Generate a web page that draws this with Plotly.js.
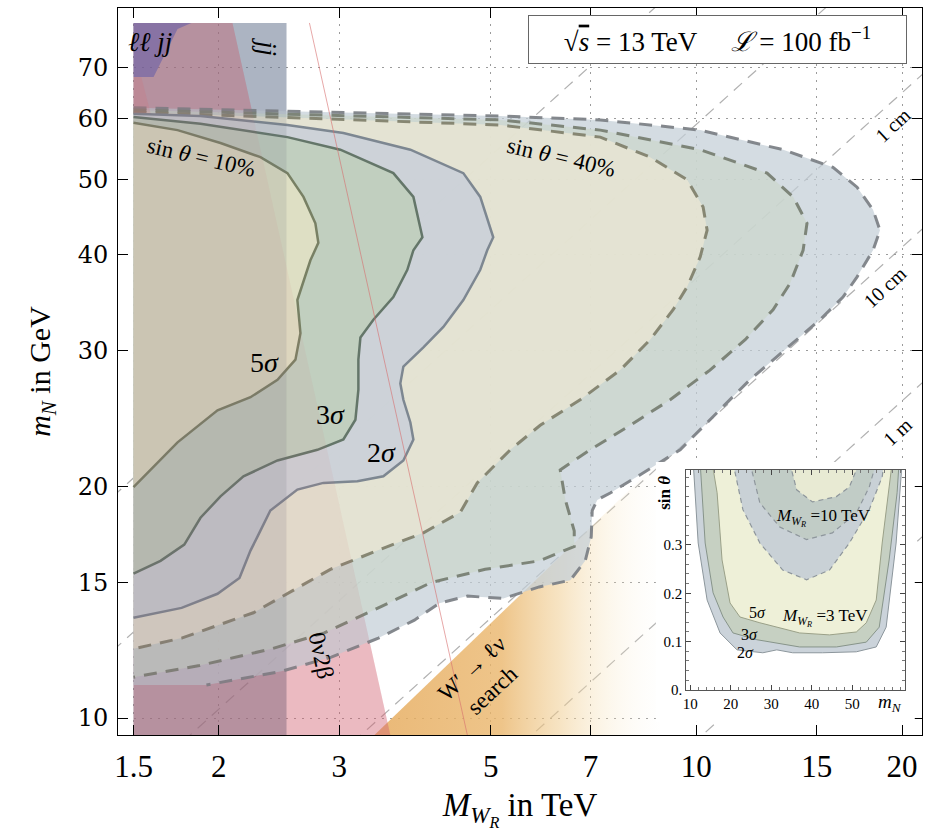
<!DOCTYPE html>
<html>
<head>
<meta charset="utf-8">
<script src="https://cdn.plot.ly/plotly-3.0.1.min.js"></script>
<style>
  html, body { margin: 0; padding: 0; background: #fff; }
  #plot { width: 930px; height: 831px; }
</style>
</head>
<body>
<div id="plot"></div>
<script>
// ---- axes -------------------------------------------------------------
// M_WR in TeV (x), m_N in GeV (y), both logarithmic
const xTicks = [1.5, 2, 3, 5, 7, 10, 15, 20];
const yTicks = [10, 15, 20, 30, 40, 50, 60, 70];

// ---- sensitivity contours, sin(theta) = 40% (dashed) -------------------
const d2M = [1.5, 2.512, 5.164, 7.234, 10.13, 13.40, 15.85, 17.19, 18.14, 18.57, 18.14, 17.19, 16.39, 15.17, 13.72, 11.98, 10.47, 9.469, 8.277, 7.48, 7.161, 7.040, 7.017, 6.876, 6.537, 5.888, 5.216, 4.621, 4.205, 3.866, 3.424, 2.922, 2.470, 1.918];
const d2m = [62.0, 61.4, 60.5, 59.8, 58.0, 54.7, 51.9, 48.9, 45.7, 43.0, 40.5, 37.4, 35.2, 32.9, 30.5, 27.5, 24.4, 22.3, 20.7, 19.6, 19.2, 18.6, 17.2, 16.0, 15.1, 14.8, 14.3, 14.4, 14.1, 13.4, 12.7, 12.0, 11.5, 11.04];
const d2Corner = [[1.5], [11.04]];   // lower edge of the scanned m_N range

const d3M = [1.5, 5.164, 7.234, 10.13, 12.69, 13.86, 14.52, 14.33, 13.72, 12.95, 11.79, 10.47, 9.155, 8.0, 6.99, 6.32, 6.43, 6.626, 6.626, 5.888, 4.909, 4.093, 3.424, 2.854, 2.388, 1.874, 1.5];
const d3m = [61.6, 59.8, 58.0, 54.7, 51.0, 47.5, 43.9, 40.5, 36.7, 33.9, 31.0, 28.3, 25.9, 24.0, 22.3, 21.0, 19.2, 17.5, 16.7, 16.0, 15.6, 15.0, 13.9, 12.9, 12.3, 11.7, 11.3];

const d5M = [1.5, 5.164, 7.234, 8.557, 9.694, 10.23, 10.37, 10.13, 9.694, 9.247, 8.557, 7.735, 6.76, 5.908, 5.341, 4.778, 4.513, 3.985, 3.412, 2.913, 2.247, 1.764, 1.5];
const d5m = [61.2, 58.9, 56.8, 53.5, 50.0, 46.1, 43.0, 39.7, 36.3, 33.9, 31.0, 28.3, 25.9, 24.0, 22.3, 20.2, 18.5, 17.4, 16.5, 15.6, 13.7, 12.7, 12.3];

// ---- sensitivity contours, sin(theta) = 10% (solid) --------------------
const s2M = [1.5, 1.880, 2.520, 3.043, 3.814, 4.559, 4.827, 5.043, 4.942, 4.827, 4.559, 4.262, 3.985, 3.725, 3.687, 3.725, 3.814, 3.853, 3.725, 3.482, 3.19, 2.844, 2.606, 2.379, 2.278, 2.225, 2.144, 1.991, 1.764, 1.5];
const s2m = [60.9, 60.5, 58.9, 57.5, 54.7, 51.0, 47.5, 42.1, 40.5, 38.2, 34.9, 32.2, 30.3, 28.6, 27.2, 25.9, 24.2, 23.0, 21.6, 20.6, 20.3, 20.2, 19.8, 18.6, 17.2, 16.5, 15.2, 14.5, 13.9, 13.5];

const s3M = [1.5, 1.880, 2.520, 3.012, 3.601, 3.853, 3.972, 3.853, 3.775, 3.601, 3.367, 3.223, 3.201, 3.201, 3.169, 3.043, 2.788, 2.437, 2.173, 2.011, 1.880, 1.78, 1.643, 1.5];
const s3m = [60.3, 59.1, 56.8, 54.7, 51.0, 47.5, 42.1, 40.5, 38.2, 35.2, 32.9, 31.2, 29.2, 26.7, 24.4, 23.0, 22.3, 21.6, 20.6, 19.4, 18.2, 16.8, 16.0, 15.4];

const s5M = [1.5, 1.740, 2.011, 2.301, 2.520, 2.660, 2.769, 2.797, 2.723, 2.633, 2.606, 2.633, 2.589, 2.437, 2.225, 1.991, 1.740, 1.5];
const s5m = [59.3, 58.0, 55.8, 53.5, 51.0, 47.5, 43.9, 41.4, 39.3, 36.0, 34.9, 31.6, 29.2, 27.5, 26.1, 25.1, 22.8, 19.95];

// ---- existing constraints ---------------------------------------------
const jjM = [1.5, 2.512, 2.512, 1.5];
const jjm = [79.9, 79.9, 9.0, 9.0];
const nbbM = [1.5, 2.094, 3.57, 1.5];          // 0nu2beta
const nbbm = [79.9, 79.9, 9.45, 9.45];
const nbbAltM = [2.714, 4.622];
const nbbAltm = [79.9, 9.5];
const lljjM = [1.5, 1.823, 1.74, 1.605, 1.5];
const lljjm = [79.9, 79.9, 78.5, 68.0, 68.0];
const lljjLowM = [1.5, 1.54, 1.589, 1.5];
const lljjLowm = [68.0, 68.0, 61.0, 61.0];
const wprimeM = [3.356, 8.85, 8.85];
const wprimem = [9.45, 21.6, 9.45];

// ---- lines of constant N decay length -----------------------------------
const decayM = [1.4, 22];
const decayLo = [19.4, 12.24, 7.72, 4.87, 3.07, 1.94];
const decayHi = [175.8, 110.9, 70.0, 44.1, 27.85, 17.57];

// ---- inset: sin(theta) versus m_N -------------------------------------
const insetXTicks = [10, 20, 30, 40, 50];
const insetYTicks = [0, 0.1, 0.2, 0.3];
const insetYText = ['0.', '0.1', '0.2', '0.3'];
const i3s2N = [10.74, 11.96, 14.17, 17.36, 21.53, 27.91, 31.35, 35.28, 42.64, 50.98, 55.89, 58.34, 60.80, 62.27];
const i3s2S = [0.47, 0.304, 0.186, 0.118, 0.083, 0.077, 0.083, 0.077, 0.077, 0.079, 0.089, 0.130, 0.304, 0.47];
const i3s3N = [12.45, 13.68, 15.64, 18.10, 20.55, 26.44, 36.99, 46.07, 53.44, 56.63, 59.08, 61.04, 61.53];
const i3s3S = [0.47, 0.304, 0.201, 0.151, 0.118, 0.104, 0.089, 0.089, 0.099, 0.130, 0.269, 0.408, 0.47];
const i3s5N = [15.40, 16.63, 17.85, 19.82, 22.27, 27.18, 36.99, 44.36, 50.98, 53.44, 55.89, 57.36, 59.08, 59.82];
const i3s5S = [0.47, 0.408, 0.269, 0.180, 0.151, 0.139, 0.118, 0.114, 0.120, 0.139, 0.186, 0.304, 0.420, 0.47];
const i10s2N = [20.55, 23.0, 27.18, 32.82, 38.71, 44.36, 49.26, 54.17, 57.36, 57.85];
const i10s2S = [0.47, 0.373, 0.304, 0.248, 0.228, 0.248, 0.304, 0.373, 0.441, 0.47];
const i10s3N = [24.72, 27.18, 32.09, 38.71, 45.09, 50.98, 54.17, 55.89];
const i10s3S = [0.47, 0.387, 0.337, 0.311, 0.325, 0.366, 0.420, 0.47];
const i10s5N = [34.54, 36.26, 40.18, 46.07, 49.26, 51.72];
const i10s5S = [0.47, 0.414, 0.389, 0.400, 0.420, 0.47];

// ---- helpers ------------------------------------------------------------
const SERIF = 'Liberation Serif, Times New Roman, serif';

function area(x, y, color, axes) {
  return Object.assign({
    type: 'scatter', mode: 'lines', x: x, y: y, fill: 'toself',
    fillcolor: color, line: {width: 0}, hoverinfo: 'skip', showlegend: false
  }, axes || {});
}
function curve(x, y, color, width, dash, axes) {
  return Object.assign({
    type: 'scatter', mode: 'lines', x: x, y: y,
    line: {color: color, width: width, dash: dash || 'solid'},
    hoverinfo: 'skip', showlegend: false
  }, axes || {});
}

const JJ = 'rgb(100,120,150)';
const JJ_VEIL = 'rgb(105,112,125)';
const NBB = 'rgb(210,100,115)';
function tint(rgb, a) { return rgb.replace('rgb(', 'rgba(').replace(')', ',' + a + ')'); }

const traces = [];

// decay-length guide lines
decayLo.forEach((lo, i) => {
  traces.push(curve(decayM, [lo, decayHi[i]], 'rgba(150,150,150,0.75)', 1.2, '11px,8px'));
});

// W' -> l nu search, fading out towards large M_WR
traces.push({
  type: 'scatter', mode: 'lines', x: wprimeM, y: wprimem, fill: 'toself',
  line: {width: 0}, hoverinfo: 'skip', showlegend: false,
  fillgradient: {
    type: 'horizontal',
    colorscale: [[0, 'rgba(230,172,95,0.85)'], [0.45, 'rgba(234,182,108,0.8)'],
                 [0.65, 'rgba(240,205,145,0.55)'], [0.82, 'rgba(246,228,190,0.3)'],
                 [1, 'rgba(250,245,235,0.05)']]
  }
});

// dijet and 0nu2beta exclusions (base layer)
traces.push(area(jjM, jjm, tint(JJ, 0.45)));
traces.push(area(nbbM, nbbm, tint(NBB, 0.4)));

// sin(theta)=40% regions
traces.push(area(d2M.concat(d2Corner[0]), d2m.concat(d2Corner[1]), 'rgba(196,206,215,0.72)'));
traces.push(area(d3M, d3m, 'rgba(204,215,204,0.72)'));
traces.push(area(d5M, d5m, 'rgba(237,231,211,0.72)'));
traces.push(curve(d2M, d2m, 'rgba(125,130,135,0.95)', 3, '13px,9px'));
traces.push(curve(d3M, d3m, 'rgba(120,128,115,0.95)', 3, '13px,9px'));
traces.push(curve(d5M, d5m, 'rgba(130,130,110,0.95)', 3, '13px,9px'));

// sin(theta)=10% regions
traces.push(area(s2M, s2m, 'rgba(195,204,218,0.72)'));
traces.push(area(s3M, s3m, 'rgba(189,205,182,0.72)'));
traces.push(area(s5M, s5m, 'rgba(233,228,198,0.72)'));
traces.push(curve(s2M, s2m, 'rgba(125,135,145,1)', 2.5));
traces.push(curve(s3M, s3m, 'rgba(100,118,105,1)', 2.5));
traces.push(curve(s5M, s5m, 'rgba(120,128,100,1)', 2.5));

// light veil of the exclusions over the contours
traces.push(area(jjM, jjm, tint(JJ_VEIL, 0.16)));
traces.push(area(nbbM, nbbm, tint(NBB, 0.07)));
traces.push(curve(nbbAltM, nbbAltm, 'rgba(215,110,110,0.6)', 1));
// same-sign dilepton + jets
traces.push(area(lljjLowM, lljjLowm, 'rgba(215,105,115,0.2)'));
traces.push(area(lljjM, lljjm, 'rgba(80,80,170,0.45)'));

// inset backing panel (own subplot so its background covers the main plot)
traces.push({type: 'scatter', mode: 'markers', x: [0], y: [0], xaxis: 'x2', yaxis: 'y2',
             marker: {opacity: 0}, hoverinfo: 'skip', showlegend: false});

// inset curves
const ia = {xaxis: 'x3', yaxis: 'y3'};
traces.push(area(i3s2N, i3s2S, '#cbd3da', ia));
traces.push(area(i3s3N, i3s3S, '#c6d0c2', ia));
traces.push(area(i3s5N, i3s5S, '#eef0d8', ia));
traces.push(curve(i3s2N, i3s2S, '#8c969c', 1, 'solid', ia));
traces.push(curve(i3s3N, i3s3S, '#87948a', 1, 'solid', ia));
traces.push(curve(i3s5N, i3s5S, '#9aa088', 1, 'solid', ia));
traces.push(area(i10s2N, i10s2S, '#c9d1d6', ia));
traces.push(area(i10s3N, i10s3S, '#c1ccc6', ia));
traces.push(area(i10s5N, i10s5S, '#e8ead3', ia));
traces.push(curve(i10s2N, i10s2S, '#8e969c', 1.2, '5px,4px', ia));
traces.push(curve(i10s3N, i10s3S, '#8e969c', 1.2, '5px,4px', ia));
traces.push(curve(i10s5N, i10s5S, '#8e969c', 1.2, '5px,4px', ia));

// ---- text -------------------------------------------------------------
function label(text, x, y, size, angle, extra) {
  return Object.assign({
    xref: 'paper', yref: 'paper', x: x, y: y, text: text, showarrow: false,
    xanchor: 'center', yanchor: 'middle', textangle: angle || 0,
    font: {family: SERIF, size: size, color: '#000'}
  }, extra || {});
}

const annotations = [
  label('<i>ℓℓ jj</i>', 0.040, 0.953, 27),
  label('<i>jj</i>', 0.186, 0.947, 27, 90),
  label('sin <i>θ</i> = 10%', 0.104, 0.795, 23, 13),
  label('sin <i>θ</i> = 40%', 0.552, 0.795, 23, 13),
  label('5<i>σ</i>', 0.182, 0.513, 28),
  label('3<i>σ</i>', 0.264, 0.4415, 28),
  label('2<i>σ</i>', 0.328, 0.389, 28),
  label('0ν2β', 0.2525, 0.110, 24, 78),
  label('W′ → ℓν<br>search', 0.453, 0.076, 23, -43),
  label('1 cm', 0.964, 0.839, 20, -43),
  label('10 cm', 0.954, 0.616, 20, -43),
  label('1 m', 0.969, 0.417, 20, -43),
  label('√<span style="text-decoration:overline"><i>s</i></span> = 13 TeV     <i>ℒ</i> = 100 fb<sup>−1</sup>',
        0.746, 0.957, 27, 0,
        {bgcolor: '#fff', bordercolor: '#666', borderwidth: 1, borderpad: 4, width: 369, height: 39}),
  // inset labels
  label('<b>sin <i>θ</i></b>', 0.6803, 0.333, 17, -90),
  label('<i>M</i><sub><i>W</i><sub><i>R</i></sub></sub> =10 TeV', 0.877, 0.2985, 17),
  label('<i>M</i><sub><i>W</i><sub><i>R</i></sub></sub> =3 TeV', 0.879, 0.1623, 17),
  label('5<i>σ</i>', 0.795, 0.169, 16),
  label('3<i>σ</i>', 0.786, 0.1376, 16),
  label('2<i>σ</i>', 0.780, 0.1128, 16),
  label('<i>m<sub>N</sub></i>', 0.960, 0.044, 19)
];

const gridStyle = {showgrid: true, gridcolor: 'rgba(130,130,130,0.8)', gridwidth: 1, griddash: '2px,6px'};

const layout = {
  width: 930, height: 831,
  margin: {l: 118, r: 8, t: 8, b: 96},
  paper_bgcolor: '#fff', plot_bgcolor: '#fff',
  showlegend: false,
  font: {family: SERIF, color: '#000'},
  xaxis: Object.assign({
    type: 'log', range: [0.1534, 1.3303], tickvals: xTicks, ticktext: xTicks.map(String),
    ticks: 'inside', ticklen: 10, tickcolor: '#000', tickwidth: 1,
    showline: true, linecolor: '#000', linewidth: 1, mirror: 'allticks', zeroline: false,
    tickfont: {family: SERIF, size: 31}, ticklabelstandoff: 4,
    title: {text: '<i>M</i><sub><i>W</i><sub><i>R</i></sub></sub> in TeV', font: {family: SERIF, size: 33}, standoff: 14}
  }, gridStyle),
  yaxis: Object.assign({
    type: 'log', range: [0.978, 1.922], tickvals: yTicks, ticktext: yTicks.map(String),
    ticks: 'inside', ticklen: 10, tickcolor: '#000', tickwidth: 1,
    showline: true, linecolor: '#000', linewidth: 1, mirror: 'allticks', zeroline: false,
    tickfont: {family: 'DejaVu Serif, serif', size: 24}, ticklabelstandoff: 4,
    title: {text: '<i>m<sub>N</sub></i> in GeV', font: {family: SERIF, size: 30}, standoff: 18}
  }, gridStyle),
  xaxis2: {domain: [0.669, 0.991], anchor: 'y2', visible: false, range: [0, 1], fixedrange: true},
  yaxis2: {domain: [0.018, 0.3755], anchor: 'x2', visible: false, range: [0, 1], fixedrange: true},
  xaxis3: {
    domain: [0.7067, 0.9789], anchor: 'y3', range: [9, 63], tickvals: insetXTicks,
    ticks: 'inside', ticklen: 5, tickcolor: '#444', showgrid: false, zeroline: false,
    showline: true, linecolor: '#555', linewidth: 1, mirror: 'allticks',
    minor: {dtick: 2, ticks: 'inside', ticklen: 3, tickcolor: '#777'},
    tickfont: {family: SERIF, size: 15}
  },
  yaxis3: {
    domain: [0.0619, 0.3645], anchor: 'x3', range: [0, 0.455], tickvals: insetYTicks, ticktext: insetYText,
    ticks: 'inside', ticklen: 5, tickcolor: '#444', showgrid: false, zeroline: false,
    showline: true, linecolor: '#555', linewidth: 1, mirror: 'allticks',
    minor: {dtick: 0.02, ticks: 'inside', ticklen: 3, tickcolor: '#777'},
    tickfont: {family: SERIF, size: 15}
  },
  annotations: annotations
};

Plotly.newPlot('plot', traces, layout, {displayModeBar: false, staticPlot: true});
</script>
</body>
</html>
